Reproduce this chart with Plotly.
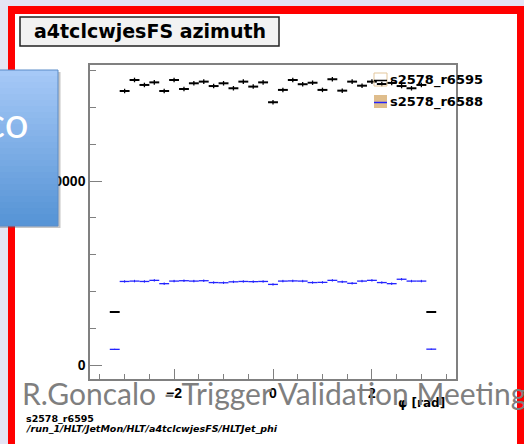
import numpy as np
import plotly.graph_objects as go

# bin centres of the phi histogram (rad), incl. the two partial edge bins
phi_centers = [-3.2, -3.0, -2.8, -2.6, -2.4, -2.2, -2.0, -1.8, -1.6, -1.4, -1.2,
               -1.0, -0.8, -0.6, -0.4, -0.2, 0.0, 0.2, 0.4, 0.6, 0.8, 1.0,
               1.2, 1.4, 1.6, 1.8, 2.0, 2.2, 2.4, 2.6, 2.8, 3.0, 3.2]

# reference run (black)
counts_r6595 = [2880, 14890, 15490, 15220, 15360, 14890, 15490, 15000, 15310, 15400, 15160,
                15310, 15040, 15400, 15130, 15360, 14280, 14950, 15490, 15260, 15340, 14950,
                15530, 14910, 15400, 15180, 15400, 15270, 15330, 15160, 15040, 15220, 2880]

# test run (blue)
counts_r6588 = [850, 4540, 4560, 4540, 4600, 4420, 4560, 4580, 4560, 4580, 4480,
                4470, 4520, 4540, 4530, 4540, 4380, 4560, 4570, 4560, 4480, 4490,
                4600, 4520, 4440, 4560, 4600, 4480, 4420, 4660, 4560, 4560, 860]

x_ticks = [-2, 0, 2]
y_ticks = [0, 10000]
y_tick_labels = ["0", "10000"]

W, H = 524, 444
L, R, T, B = 90, 456, 65, 379  # plot frame in pixels
BIN_HALF = 0.1

root_font = "DejaVu Sans"
blue = "#2424ff"
axis_gray = "#808080"


def px(x):
    return (x - L) / (R - L)


def py(y):
    return (B - y) / (B - T)


fig = go.Figure()

fig.add_trace(go.Scatter(
    x=phi_centers, y=counts_r6588, mode="markers", name="s2578_r6588",
    marker=dict(size=1, color=blue),
    error_x=dict(type="constant", value=BIN_HALF, thickness=1.3, width=0, color=blue),
    error_y=dict(type="data", array=np.sqrt(counts_r6588), thickness=1, width=0, color=blue),
    hovertemplate="phi: %{x}<br>entries: %{y}<extra></extra>",
))
fig.add_trace(go.Scatter(
    x=phi_centers, y=counts_r6595, mode="markers", name="s2578_r6595",
    marker=dict(size=1, color="black"),
    error_x=dict(type="constant", value=BIN_HALF, thickness=2, width=0, color="black"),
    error_y=dict(type="data", array=np.sqrt(counts_r6595), thickness=1.3, width=0, color="black"),
    hovertemplate="phi: %{x}<br>entries: %{y}<extra></extra>",
))

shapes = [
    # slide background: red frame with white inside
    dict(type="rect", xref="paper", yref="paper", x0=px(8), x1=px(540), y0=py(6), y1=py(460),
         fillcolor="#ff0000", line=dict(width=0), layer="below"),
    dict(type="rect", xref="paper", yref="paper", x0=px(15), x1=px(517), y0=py(14), y1=py(460),
         fillcolor="white", line=dict(width=0), layer="below"),
    # histogram title box
    dict(type="rect", xref="paper", yref="paper", x0=px(20), x1=px(279), y0=py(17), y1=py(46),
         fillcolor="#f2f2f2", line=dict(width=1.5, color="#222222"), layer="below"),
    # legend symbols
    dict(type="rect", xref="paper", yref="paper", x0=px(374), x1=px(387), y0=py(73), y1=py(86),
         fillcolor="rgba(0,0,0,0)", line=dict(width=1, color="#e3c79c"), layer="above"),
    dict(type="line", xref="paper", yref="paper", x0=px(374), x1=px(387), y0=py(80.5), y1=py(80.5),
         line=dict(width=1.5, color="black"), layer="above"),
    dict(type="rect", xref="paper", yref="paper", x0=px(374), x1=px(387), y0=py(95), y1=py(108),
         fillcolor="#dfbd8c", line=dict(width=0), layer="above"),
    dict(type="line", xref="paper", yref="paper", x0=px(374), x1=px(387), y0=py(102.5), y1=py(102.5),
         line=dict(width=1.5, color=blue), layer="above"),
    # shadow of the overlapping slide box
    dict(type="rect", xref="paper", yref="paper", x0=px(0), x1=px(60.5), y0=py(72), y1=py(228),
         fillcolor="rgba(90,90,90,0.35)", line=dict(width=0), layer="above"),
]

# blue gradient box from the slide, stacked bands
top_rgb = np.array([166, 201, 247])
bot_rgb = np.array([86, 148, 214])
n_bands = 26
box_top, box_bot = 70, 226
for i in range(n_bands):
    f = i / (n_bands - 1)
    c = (top_rgb + (bot_rgb - top_rgb) * f).astype(int)
    y0 = box_top + (box_bot - box_top) * i / n_bands
    y1 = box_top + (box_bot - box_top) * (i + 1) / n_bands + 0.6
    shapes.append(dict(type="rect", xref="paper", yref="paper", x0=px(0), x1=px(58),
                       y0=py(y0), y1=py(min(y1, box_bot)),
                       fillcolor=f"rgb({c[0]},{c[1]},{c[2]})", line=dict(width=0), layer="above"))
shapes.append(dict(type="rect", xref="paper", yref="paper", x0=px(-2), x1=px(58), y0=py(box_top), y1=py(box_bot),
                   fillcolor="rgba(0,0,0,0)", line=dict(width=1, color="#5b8cc8"), layer="above"))

annotations = [
    dict(text="a4tclcwjesFS azimuth", x=px(149.5), y=py(31), xanchor="center", yanchor="middle",
         font=dict(family=root_font, size=19, color="black", weight="bold")),
    dict(text="s2578_r6595", x=px(388), y=py(80), xanchor="left", yanchor="middle",
         font=dict(family=root_font, size=13, color="black", weight="bold")),
    dict(text="s2578_r6588", x=px(388), y=py(102), xanchor="left", yanchor="middle",
         font=dict(family=root_font, size=13, color="black", weight="bold")),
    dict(text="co", x=px(31), y=py(122), xanchor="right", yanchor="middle",
         font=dict(family="Lato", size=42, color="white")),
    dict(text="φ [rad]", x=px(447), y=py(403), xanchor="right", yanchor="middle",
         font=dict(family=root_font, size=12, color="black", weight="bold")),
    dict(text="R.Goncalo - Trigger Validation Meeting", x=px(20), y=py(393), xanchor="left",
         yanchor="middle", font=dict(family="Lato", size=30, color="#7f7f7f")),
    dict(text="s2578_r6595", x=px(24), y=py(418), xanchor="left", yanchor="middle",
         font=dict(family=root_font, size=9.5, color="black", weight="bold")),
    dict(text="/run_1/HLT/JetMon/HLT/a4tclcwjesFS/HLTJet_phi", x=px(24), y=py(428), xanchor="left",
         yanchor="middle", font=dict(family=root_font, size=9.5, color="black", weight="bold",
                                      style="italic")),
]
for a in annotations:
    a.update(xref="paper", yref="paper", showarrow=False)

fig.update_layout(
    width=W, height=H,
    margin=dict(l=L, r=W - R, t=T, b=H - B, pad=0),
    paper_bgcolor="#e4e4f4",
    plot_bgcolor="white",
    showlegend=False,
    shapes=shapes,
    annotations=annotations,
    xaxis=dict(range=[-3.7, 3.7], tickvals=x_ticks, ticks="inside", ticklen=10, tickwidth=1.2,
               tickcolor=axis_gray, showline=True, linecolor=axis_gray, linewidth=1.5, mirror=True,
               showgrid=False, zeroline=False,
               tickfont=dict(family="Liberation Sans", size=14, color="black", weight="bold"),
               minor=dict(dtick=0.5, ticks="inside", ticklen=5, tickcolor=axis_gray, tickwidth=1.2,
                          showgrid=False)),
    yaxis=dict(range=[-761, 16304], tickvals=y_ticks, ticktext=y_tick_labels, ticks="inside",
               ticklen=12, tickwidth=1.2, tickcolor=axis_gray, showline=True, linecolor=axis_gray,
               linewidth=1.5, mirror=True, showgrid=False, zeroline=False,
               tickfont=dict(family="Liberation Sans", size=14, color="black", weight="bold"),
               minor=dict(dtick=2000, ticks="inside", ticklen=6, tickcolor=axis_gray, tickwidth=1.2,
                          showgrid=False)),
)

fig.write_html("out.html", config={"displayModeBar": False},
               post_script="document.body.style.margin='0';")
